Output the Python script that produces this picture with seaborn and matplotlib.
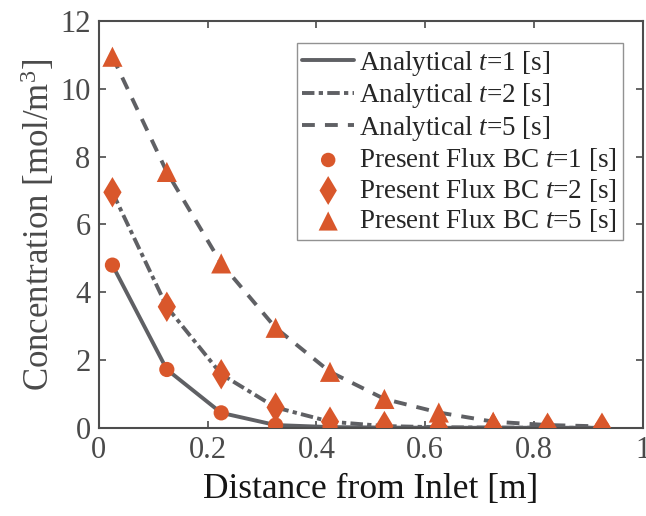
import numpy as np
import pandas as pd
import matplotlib
matplotlib.use("Agg")
import matplotlib.pyplot as plt
import seaborn as sns

x = [0.025, 0.125, 0.225, 0.325, 0.425, 0.525, 0.625, 0.725, 0.825, 0.925]
analytical_t1 = [4.8, 1.72, 0.44, 0.08, 0.02, 0.005, 0.0, 0.0, 0.0, 0.0]
analytical_t2 = [6.95, 3.57, 1.58, 0.6, 0.18, 0.05, 0.015, 0.005, 0.0, 0.0]
analytical_t5 = [10.95, 7.55, 4.85, 2.95, 1.65, 0.85, 0.45, 0.18, 0.08, 0.04]
present_t1 = [4.8, 1.72, 0.44, 0.08, 0.02, 0.005, 0.0, 0.0, 0.0, 0.0]
present_t2 = [6.95, 3.57, 1.58, 0.6, 0.18, 0.05, 0.015, 0.005, 0.0, 0.0]
present_t5 = [10.95, 7.55, 4.85, 2.95, 1.65, 0.85, 0.45, 0.18, 0.08, 0.04]
xticks = [0, 0.2, 0.4, 0.6, 0.8, 1]
xticklabels = ['0', '0.2', '0.4', '0.6', '0.8', '1']
yticks = [0, 2, 4, 6, 8, 10, 12]

sns.set_style("ticks")
plt.rcParams['font.family'] = ['Liberation Serif', 'DejaVu Serif']
plt.rcParams['mathtext.fontset'] = 'custom'
plt.rcParams['mathtext.it'] = 'Liberation Serif:italic'
plt.rcParams['mathtext.rm'] = 'Liberation Serif'

fig = plt.figure(figsize=(6.46, 5.16), dpi=100)
ax = fig.add_axes([0.153, 0.171, 0.842, 0.788])

gray = '#5f6064'
orange = '#d9572b'

sns.lineplot(x=x, y=analytical_t1, ax=ax, color=gray, lw=2.8, linestyle='-',
             label=r'Analytical $t$=1 [s]')
sns.lineplot(x=x, y=analytical_t2, ax=ax, color=gray, lw=2.8, linestyle=(0, (3.2, 1.1, 1.1, 1.1)),
             label=r'Analytical $t$=2 [s]')
sns.lineplot(x=x, y=analytical_t5, ax=ax, color=gray, lw=2.8, linestyle=(0, (3.3, 2.6)),
             label=r'Analytical $t$=5 [s]')
sns.scatterplot(x=x, y=present_t1, ax=ax, color=orange, marker='o', s=120, edgecolor='none',
                label=r'Present Flux BC $t$=1 [s]', zorder=5)
sns.scatterplot(x=x, y=present_t2, ax=ax, color=orange, marker='d', s=240, edgecolor='none',
                label=r'Present Flux BC $t$=2 [s]', zorder=5)
sns.scatterplot(x=x, y=present_t5, ax=ax, color=orange, marker='^', s=210, edgecolor='none',
                label=r'Present Flux BC $t$=5 [s]', zorder=5)

ax.set_xlim(0, 1)
ax.set_ylim(0, 12)
ax.set_xticks(xticks)
ax.set_xticklabels(xticklabels)
ax.set_yticks(yticks)
ax.tick_params(direction='in', length=5, width=1.2, labelsize=22, colors='#4a4a4a', pad=6,
               top=True, right=True)
for s in ax.spines.values():
    s.set_linewidth(1.5)
    s.set_color('#4d4d4d')
    s.set_visible(True)
ax.set_xlabel('Distance from Inlet [m]', fontsize=25.5, color='#151515', labelpad=6)
ax.set_ylabel(r'Concentration [mol/m$^3$]', fontsize=25, color='#4a4a4a', labelpad=2)

leg = ax.legend(loc='upper right', bbox_to_anchor=(0.963, 0.946), fontsize=19.5, frameon=True,
                fancybox=False, edgecolor='#777777', handlelength=1.9, handletextpad=0.2,
                borderpad=0.2, labelspacing=0.13, borderaxespad=0, markerscale=0.95)
leg.get_frame().set_linewidth(1.0)

fig.savefig('out.png', dpi=100)
